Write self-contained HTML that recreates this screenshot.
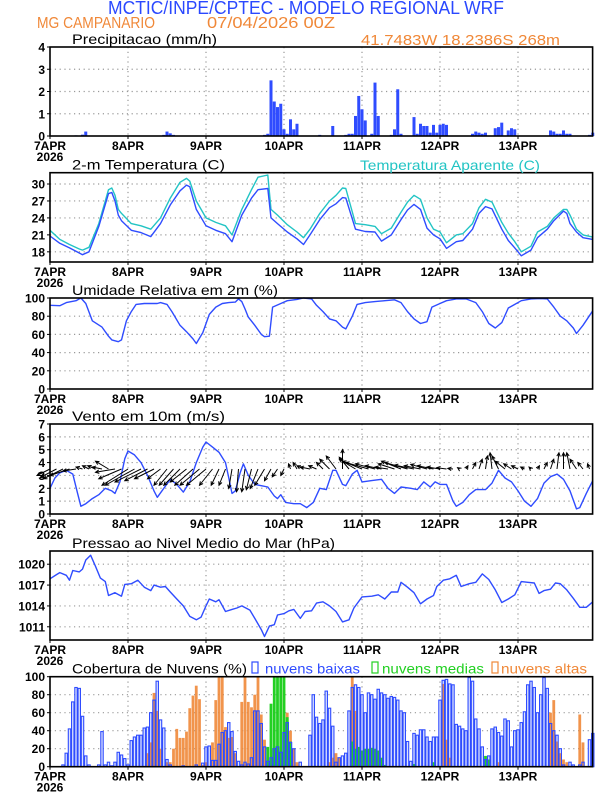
<!DOCTYPE html>
<html><head><meta charset="utf-8"><style>
html,body{margin:0;padding:0;background:#fff;}
svg{display:block;}
text{font-family:"Liberation Sans",sans-serif;}
.nar{font-family:"Liberation Sans Narrow","Liberation Sans",sans-serif;font-weight:bold;}
</style></head><body>
<svg id="chart" width="612" height="792" viewBox="0 0 612 792" xmlns="http://www.w3.org/2000/svg">
<rect width="612" height="792" fill="#fff"/>
<text x="108" y="14" font-size="18" fill="#2a48ff" textLength="396" lengthAdjust="spacingAndGlyphs">MCTIC/INPE/CPTEC - MODELO REGIONAL WRF</text>
<text x="37" y="28" font-size="16" fill="#f08838" textLength="118" lengthAdjust="spacingAndGlyphs">MG CAMPANARIO</text>
<text x="207" y="28" font-size="16" fill="#f08838" textLength="128" lengthAdjust="spacingAndGlyphs">07/04/2026 00Z</text>
<text x="361" y="45" font-size="15" fill="#f08838" textLength="199" lengthAdjust="spacingAndGlyphs">41.7483W 18.2386S 268m</text>
<g id="layer"></g>
</svg>
<script>
// ---------- data ----------
const dayLabels = ["7APR","8APR","9APR","10APR","11APR","12APR","13APR"];
const precipHours = [8,10,11,35,36,37,38,66,67,68,69,70,71,72,73,74,75,76,83,87,91,92,93,94,95,96,97,99,100,101,105,106,107,108,112,113,114,115,116,117,118,119,120,121,122,130,131,132,133,134,137,138,139,141,142,143,154,155,156,157,158,159,160,166,167];
const precipVals  = [0.03,0.06,0.2,0.05,0.2,0.12,0.05,0.05,0.1,2.5,1.55,1.3,1.45,0.3,0.1,0.75,0.3,0.55,0.05,0.45,0.05,0.1,0.1,0.9,1.8,1.2,0.7,0.1,2.4,0.9,0.05,0.3,2.1,0.1,0.85,0.1,0.55,0.45,0.45,0.15,0.5,0.15,0.5,0.55,0.5,0.1,0.2,0.15,0.1,0.15,0.35,0.4,0.6,0.25,0.35,0.3,0.25,0.2,0.1,0.1,0.25,0.1,0.1,0.05,0.15];
const tempHours = [0,3,6,9,10,12,15,18,19,20,21,22,25,28,31,34,37,40,42,43,45,48,51,54,56,59,62,64,67,68,70,73,76,78,80,83,86,88,90,91,94,97,100,102,105,108,110,112,114,116,118,120,122,125,127,130,132,134,136,139,141,143,145,148,150,153,155,158,159,160,162,164,167];
const tempVals = [20.8,19.5,18.7,17.8,17.5,18,22.5,28.3,28.5,27,24.5,23.5,21.8,21.4,20.7,23,26.3,28.8,29.8,29.5,25.5,22.6,21.8,21.2,19.8,24.5,27.5,29,29.2,24,23,21.5,20.3,19.3,21,23.7,25.8,26.5,27.6,27.5,22,21.6,21.5,19.9,21,23.7,25.4,26.4,25.5,22.2,21,20.3,18.6,19.8,20,22,24.8,26,25.6,22,20,18.7,17.3,18.3,20.5,22,23.5,25.2,24.8,23,21.5,20.5,20.2];
const apparentVals = [21.8,20.2,19.3,18.5,18.3,18.8,23,29,29.3,28,25.5,24.8,23,22.6,22,24,27.5,30.3,31,30.5,27,24,23.2,22.6,21,25.5,29,31.2,31.6,25.5,24.5,22.8,21.5,20.5,22,24.8,27,28,29.3,29.2,23,22.8,22.5,21.2,22.2,25,26.8,28,27.3,24,22,21.5,19.6,21,21.2,23,25.8,27.3,26.8,23.2,21.3,19.8,18,19,21.5,22.5,24,25.5,25.5,24.5,22,21,20.6];
const rhHours = [0,3,5,8,9.5,11,13,16,18,19,21,22,23.5,25,26.5,29,33,34,36,37.5,40,42,44,45,47,49,51,53,55,57,58,59,60,61,63,65,66,67.5,68.5,71,73,76,78,80.5,82,84,86,88,90,91,93,94.5,97,100,103,106,108,110,112,114,116,117.5,120,122,125,128,131,133,135,137,139,141,143,145,148,151,153,155,157,159,161,162,164,167];
const rhVals = [92,91.5,95,97,100,94,75,68,58,54,52,54,75,85,93,94,94,95,93,85,70,63,55,50,62,82,90,94,95,95.5,99,96,88,79,70,60,57.5,58,90,94,97,98.5,100,99,92,85,77,75,68,66,80,93,95,96,97,98,95,85,77,72,74,90,94,97,99,99,95,85,72,67,73,89,93,97,99,99.5,99,90,80,75,67,61,70,86];
const windHours = [0,1.5,3,5,7,8.5,9.5,11,13,15,17,19,20,21.5,23,24,26,28,30,32,33,35,37,39,41,43,45,47,48,50,52,54,55,56,57,58.5,59.5,61,63,65,67,69,70,71,72.5,75,77,79,81,83,85,87,88,90,91,93,94.5,96,99,102,104,106,108,111,113,115,117,118.5,120,122,124,125,127,129,131,134,136,138,140,142,144,146,148,150,152,154,156,158,160,162,163,165,167];
const windVals = [2.0,2.8,3.2,3.4,3.1,1.6,0.6,0.8,1.2,1.5,2.0,1.8,1.6,2.5,4.3,4.9,4.6,4.0,3.0,1.8,1.3,2.0,2.7,2.3,1.7,2.5,4.0,5.2,5.6,5.2,4.8,4.0,2.8,1.6,1.8,3.2,3.9,3.0,2.3,2.2,2.1,1.4,1.2,1.5,0.9,0.8,0.8,0.5,0.9,2.0,1.9,3.4,3.4,2.3,2.2,3.1,3.4,2.5,2.6,2.7,2.0,1.6,2.1,2.0,1.9,2.5,2.1,2.5,2.3,2.3,1.0,0.6,0.9,1.5,1.9,1.9,2.4,3.4,2.8,2.5,1.8,1.0,0.6,1.2,2.4,2.9,3.1,2.7,1.8,0.4,0.5,1.6,2.6];
const vecHours = [0,2,4,6,8,10,12,14,16,18,20,22,24,26,28,30,32,34,36,38,40,42,44,46,48,50,52,54,56,58,60,62,64,66,68,70,72,74,76,78,80,82,84,86,88,90,92,94,96,98,100,102,104,106,108,110,112,114,116,118,120,122,124,126,128,130,132,134,136,138,140,142,144,146,148,150,152,154,156,158,160,162,164,166];
const vecU = [-2,-2.5,-3,-3,-2,-1,-1,-1.2,-1.5,-2,-3,-3.5,
 -4,-4.5,-4,-3.5,-3,-2,-2,-2.2,-2.5,-2.5,-2.8,-3,
 -3,-2,-1.2,-1,-0.5,-0.3,-0.5,-0.8,-1.2,-1.5,-1,-0.8,
 -0.5,-0.3,-0.6,-1,-1.5,-1.2,-1,-1.5,-1.5,0,-1.5,-2.5,
 -3,-3.5,-3,-2.5,-2,-2.5,-3,-3.5,-3,-2.5,-2.5,-2.5,
 -2,-1.5,-0.8,-0.3,0.3,0.5,0.5,0.3,-0.3,-1,-1.5,-1.2,
 -1,-0.6,-0.3,0.3,0.5,0.5,0.3,0,-0.5,-1,-0.8,-0.3];
const vecV = [-1,-1.3,-1.5,-1,-0.3,0.3,0.5,0.5,0.3,1.2,-0.5,-1.5,
 -2.5,-2.5,-2,-1.8,-1.5,-1.5,-2.5,-2.5,-2.5,-2,-2.5,-2.5,
 -2.5,-2.5,-2.5,-2.5,-3,-3.5,-3.5,-3.2,-3,-2.5,-1.8,-1.2,
 -1,0.8,1,0.5,0.3,0.5,1,1.5,2,3,1.8,1.5,
 1.2,1,0.8,0.5,0.3,0.8,1.2,1,0.6,0.5,0.7,0.5,
 0.3,0.2,0.1,0.2,0.5,1,1.5,2,2.5,2,1.2,0.8,
 0.5,0.3,0.3,0.5,1,1.5,2.5,2.5,2.5,1.5,1,0.8];
const presHours = [0,2,3,5,6,7,9,10,11,12.5,14,15.5,17,18,20,22,23,25,27,29,31,32,34,35.5,37,39,41,43,45,46.5,48,49,51,52,54,56,57.5,59,61.5,63,65,66,67.5,69,70,72,73.5,75,77,78.5,80.5,82,84,86,88,90,92,93.5,96,99,101,103,105,107,108,110,112,114,116,118,119,121,123,125,126.5,129,131,133,135,137,139,141,143,145,147,149,150.5,152,154,155.5,157,159,161,163,165,167];
const presVals = [1017.9,1018.5,1018.8,1018.4,1017.7,1019.1,1018.9,1019.3,1020.6,1021.3,1019.7,1018.0,1017.5,1015.5,1015.9,1015.4,1017.1,1017.2,1017.7,1016.7,1016.2,1017.0,1016.7,1016.8,1016.0,1015.0,1014.0,1012.5,1012.0,1012.4,1014.0,1015.0,1014.6,1014.9,1013.2,1013.5,1013.7,1014.0,1013.4,1012.2,1010.6,1009.6,1011.1,1011.3,1012.7,1012.9,1013.3,1013.5,1012.2,1013.2,1013.3,1014.4,1014.6,1014.0,1013.2,1011.7,1012.0,1013.7,1015.3,1015.4,1015.6,1015.0,1016.0,1016.0,1017.4,1016.7,1015.9,1014.3,1015.0,1015.5,1016.8,1017.7,1017.9,1018.4,1016.8,1017.2,1017.4,1018.6,1017.8,1016.3,1014.5,1015.0,1015.6,1017.5,1017.4,1017.3,1015.8,1016.2,1016.4,1017.3,1017.2,1016.3,1015.1,1013.8,1013.8,1014.6];
const lowCloud = [0,0,0,0,2,15,42,72,88,87,56,12,2,0,0,2,39,2,5,1,5,16,13,9,
 2,29,33,35,35,43,44,60,74,95,52,43,8,2,0,0,0,1,0,0,0,2,0,4,
 22,23,7,7,25,38,40,49,39,17,6,2,5,3,10,62,62,48,22,6,10,20,22,16,
 38,49,27,20,0,5,0,0,35,80,55,48,52,84,65,45,5,10,12,15,62,88,91,88,
 80,60,82,80,75,86,82,80,76,78,77,74,62,60,28,6,37,35,41,41,33,28,33,33,
 74,96,97,92,91,47,45,42,40,99,95,53,42,22,8,12,42,44,38,34,53,51,22,40,
 41,49,61,91,95,88,60,80,99,87,48,40,35,20,2,0,5,2,0,2,5,0,30,37];
const highHours = [30,31,32,33,34,36,37,38,39,40,41,42,43,44,45,46,47,48,50,51,52,53,54,55,56,57,59,60,61,62,63,64,65,66,67,72,73,74,75,76,86,87,88,89,93,94,121,122,123,138,154,155,156,157,158,159,163,164];
const highVals = [15,27,82,62,20,5,5,20,42,32,32,39,65,79,90,75,2,5,27,74,100,100,44,32,33,15,72,100,72,66,80,100,58,30,10,85,60,40,20,5,5,10,15,10,100,62,92,30,10,5,60,74,28,15,8,5,58,27];
const midHours = [67,68,69,70,71,72,73,74,93,94,95,96,97,98,99,100,101,102,103,112,118,134,135];
const midVals = [22,70,100,100,100,100,55,28,28,20,22,18,20,20,21,20,18,10,2,3,5,12,8];

// ---------- layout ----------
const NS = "http://www.w3.org/2000/svg";
const layer = document.getElementById("layer");
const X0 = 50, HR = 3.25, X1 = 592.6;
function xs(h){ return X0 + h*HR; }
function mk(tag, attrs, parent){
  const e = document.createElementNS(NS, tag);
  for (const k in attrs) e.setAttribute(k, attrs[k]);
  (parent||layer).appendChild(e);
  return e;
}
const BLUE="#2f4cff", CYAN="#22c4c4", ORANGE="#f08838", GREEN="#22d022";

function panel(name, top, bot, ymin, ymax, ticks, title, titleLen){
  const g = mk("g", {});
  
  
  const ys = v => bot - (v - ymin)/(ymax - ymin)*(bot - top);
  ticks.forEach(t => {
    const y = ys(t);
    if (y > top+1 && y < bot-1) {
      const l = mk("line", {x1:X0, x2:X1, y1:y, y2:y, stroke:"#999", "stroke-width":1.2, "stroke-dasharray":"1.2,3.6"}, g);
      
      
    }
    const tl = mk("text", {x:45, y:y+4.5, "font-size":12, "text-anchor":"end", fill:"#000", class:"nar"}, g);
    
    
    tl.textContent = t;
    const tk = mk("line", {x1:X0-3, x2:X0, y1:y, y2:y, stroke:"#000", "stroke-width":1}, g);
    
    
  });
  for (let d=1; d<7; d++){
    const x = xs(24*d);
    const l = mk("line", {x1:x, x2:x, y1:top, y2:bot, stroke:"#999", "stroke-width":1.2, "stroke-dasharray":"1.2,3.6"}, g);
    
    
  }
  dayLabels.forEach((lab, d) => {
    const x = xs(24*d);
    const t = mk("text", {x:x, y:bot+14, "font-size":12, "text-anchor":"middle", fill:"#000", class:"nar"}, g);
    
    
    t.textContent = lab;
    const tk = mk("line", {x1:x, x2:x, y1:bot, y2:bot+3, stroke:"#000", "stroke-width":1}, g);
    
    
  });
  const yr = mk("text", {x:X0, y:bot+25, "font-size":12, "text-anchor":"middle", fill:"#000", class:"nar"}, g);
  
  
  yr.textContent = "2026";
  const tt = mk("text", {x:72, y:top-3, "font-size":14, fill:"#000", textLength:titleLen, lengthAdjust:"spacingAndGlyphs"}, g);
  
  
  tt.textContent = title;
  return {g, ys, top, bot};
}
function frame(p){
  const r = mk("rect", {x:X0, y:p.top, width:X1-X0, height:p.bot-p.top, fill:"none", stroke:"#000", "stroke-width":1.6}, p.g);
  
  
}
function line(p, hours, vals, color, name){
  const pts = hours.map((h,i) => xs(h).toFixed(1)+","+p.ys(vals[i]).toFixed(1)).join(" ");
  const l = mk("polyline", {points:pts, fill:"none", stroke:color, "stroke-width":1.4, "stroke-linejoin":"round"}, p.g);
  
  
}

// precipitation
const pP = panel("precipitation", 47, 136, 0, 4, [0,1,2,3,4], "Precipitacao (mm/h)", 145);
precipHours.forEach((h,i) => {
  const y = pP.ys(precipVals[i]);
  const b = mk("rect", {x:xs(h)-1.5, y:y, width:3, height:pP.bot-y, fill:BLUE}, pP.g);
  
  
});
frame(pP);

// temperature
const pT = panel("temperature", 172.7, 262, 16.2, 32, [18,21,24,27,30], "2-m Temperatura (C)", 153);
line(pT, tempHours, apparentVals, CYAN, "apparent-temp-line");
line(pT, tempHours, tempVals, BLUE, "temp-line");
frame(pT);
const at = mk("text", {x:360, y:170, "font-size":14, fill:CYAN, textLength:180, lengthAdjust:"spacingAndGlyphs"});


at.textContent = "Temperatura Aparente (C)";

// RH
const pR = panel("humidity", 298, 389, 0, 100, [0,20,40,60,80,100], "Umidade Relativa em 2m (%)", 206);
line(pR, rhHours, rhVals, BLUE, "humidity-line");
frame(pR);

// wind
const pW = panel("wind", 424, 514, 0, 7, [0,1,2,3,4,5,6,7], "Vento em 10m (m/s)", 153);
line(pW, windHours, windVals, BLUE, "wind-speed-line");
const by = pW.ys(3.5);
const K = 6.5;
vecHours.forEach((h,i) => {
  const x0 = xs(h), x1 = x0 + vecU[i]*K, y1 = by - vecV[i]*K;
  const ang = Math.atan2(y1-by, x1-x0);
  const a = 4, s = 0.45;
  const d = `M${x0},${by}L${x1},${y1}M${x1-a*Math.cos(ang-s)},${y1-a*Math.sin(ang-s)}L${x1},${y1}L${x1-a*Math.cos(ang+s)},${y1-a*Math.sin(ang+s)}`;
  const ar = mk("path", {d:d, stroke:"#000", "stroke-width":1, fill:"none"}, pW.g);
  
  
});
frame(pW);

// pressure
const pS = panel("pressure", 551, 640, 1009.1, 1021.9, [1011,1014,1017,1020], "Pressao ao Nivel Medio do Mar (hPa)", 263);
line(pS, presHours, presVals, BLUE, "pressure-line");
frame(pS);

// clouds
const pC = panel("clouds", 676.7, 766.7, 0, 100, [0,20,40,60,80,100], "Cobertura de Nuvens (%)", 175);
lowCloud.forEach((v,h) => {
  if (v <= 0) return;
  const y = pC.ys(v);
  const b = mk("rect", {x:xs(h)-1.2, y:y, width:2.4, height:pC.bot-y, fill:"#dde4fd"}, pC.g);
  
  
});
highHours.forEach((h,i) => {
  const y = pC.ys(highVals[i]);
  const b = mk("rect", {x:xs(h)-1.4, y:y, width:2.8, height:pC.bot-y, fill:ORANGE, "fill-opacity":0.9}, pC.g);
  
  
});
midHours.forEach((h,i) => {
  const y = pC.ys(midVals[i]);
  const b = mk("rect", {x:xs(h)-1.4, y:y, width:2.8, height:pC.bot-y, fill:GREEN}, pC.g);
  
  
});
lowCloud.forEach((v,h) => {
  const y = pC.ys(v);
  const b = mk("rect", {x:xs(h)-1.2, y:y, width:2.4, height:pC.bot-y, fill:"none", stroke:BLUE, "stroke-width":1.1}, pC.g);
  
  
});
frame(pC);
const legend = [[252,"nuvens baixas",BLUE,95,265,"legend-low"],[372,"nuvens medias",GREEN,102,382,"legend-mid"],[492,"nuvens altas",ORANGE,86,501,"legend-high"]];
legend.forEach(L => {
  const g = mk("g", {});
  
  
  mk("rect", {x:L[0], y:662, width:6, height:11, fill:"none", stroke:L[2], "stroke-width":1.2}, g);
  const t = mk("text", {x:L[4], y:673.5, "font-size":14, fill:L[2], textLength:L[3], lengthAdjust:"spacingAndGlyphs"}, g);
  t.textContent = L[1];
});
</script>
</body></html>
